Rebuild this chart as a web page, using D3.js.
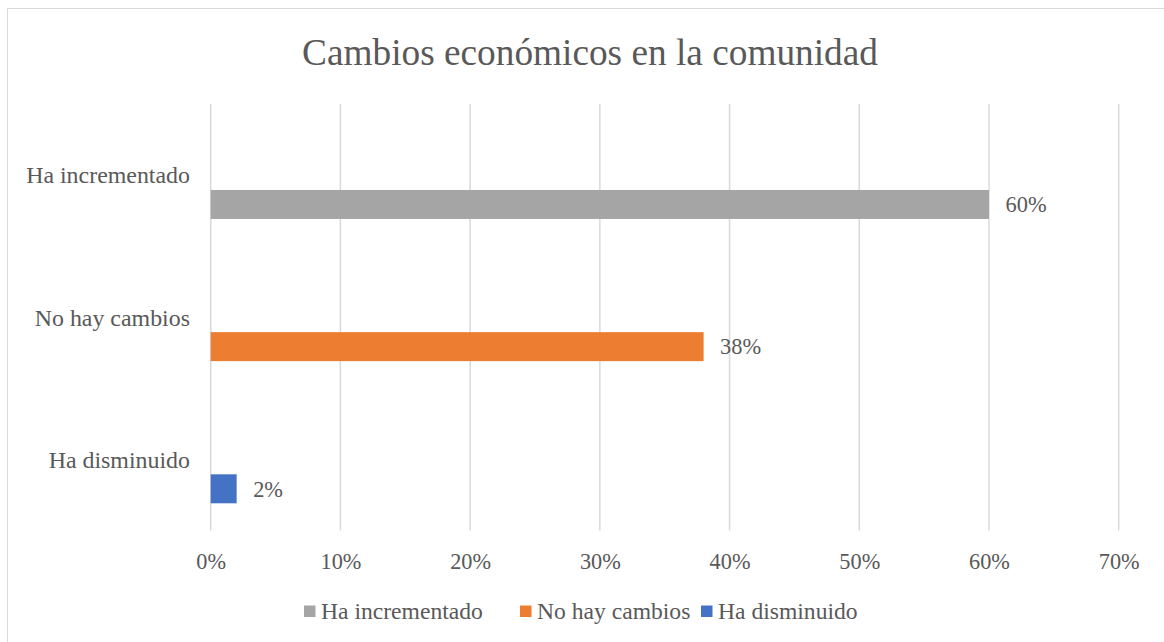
<!DOCTYPE html>
<html>
<head>
<meta charset="utf-8">
<script src="https://cdn.jsdelivr.net/npm/d3@7"></script>
<style>
  html, body { margin: 0; padding: 0; background: #fff; }
  svg { display: block; font-family: "Liberation Serif", "Times New Roman", serif; }
</style>
</head>
<body>
<svg id="chart" width="1164" height="642"></svg>
<script>
const title = "Cambios económicos en la comunidad";
const categories = ["Ha incrementado", "No hay cambios", "Ha disminuido"];
const seriesNames = ["Ha incrementado", "No hay cambios", "Ha disminuido"];
const seriesColors = ["#a5a5a5", "#ed7d31", "#4472c4"];
// values per series, aligned with categories (percent)
const serieHaIncrementado = [60, 0, 0];
const serieNoHayCambios = [0, 38, 0];
const serieHaDisminuido = [0, 0, 2];
const seriesValues = [serieHaIncrementado, serieNoHayCambios, serieHaDisminuido];
const xTicks = [0, 10, 20, 30, 40, 50, 60, 70];

const svg = d3.select("#chart");
const textColor = "#595959";
const FONT = "'Liberation Serif', 'Times New Roman', serif";

// outer border
svg.append("rect").attr("x", 7.5).attr("y", 8.5).attr("width", 1170).attr("height", 650)
  .attr("fill", "#fff").attr("stroke", "#d9d9d9").attr("stroke-width", 1);

const plot = { left: 210.7, right: 1118.7, top: 104, bottom: 530.5 };

const x = d3.scaleLinear().domain([0, 70]).range([plot.left, plot.right]);
const y = d3.scaleBand().domain(categories).range([plot.top, plot.bottom]).paddingInner(0).paddingOuter(0);
// each bar sits in the lower slot of its category band
const barOffset = y.bandwidth() * 86 / 142.2;
const barH = y.bandwidth() * 29 / 142.2;

// title
svg.append("text").attr("x", 590).attr("y", 52).attr("text-anchor", "middle")
  .attr("dominant-baseline", "central")
  .style("font-family", FONT)
  .attr("font-size", 37.3).attr("fill", textColor).text(title);

// gridlines
svg.append("g").selectAll("line").data(xTicks).join("line")
  .attr("x1", d => x(d)).attr("x2", d => x(d))
  .attr("y1", plot.top).attr("y2", plot.bottom)
  .attr("stroke", "#d9d9d9").attr("stroke-width", 1.5);

// x axis labels
const xAxis = d3.axisBottom(x).tickValues(xTicks).tickFormat(d => d + "%").tickSize(0).tickPadding(0);
const gx = svg.append("g").attr("transform", `translate(0,${plot.bottom})`).call(xAxis);
gx.select(".domain").remove();
gx.attr("font-family", null).attr("font-size", null);
gx.selectAll("text").style("font-family", FONT)
  .attr("font-size", 22.3).attr("fill", textColor).attr("y", 31).attr("dy", "0.35em");

// y axis labels (category centers)
const yAxis = d3.axisLeft(y).tickSize(0).tickPadding(0);
const gy = svg.append("g").attr("transform", `translate(${190},0)`).call(yAxis);
gy.select(".domain").remove();
gy.attr("font-family", null).attr("font-size", null);
gy.selectAll("text").style("font-family", FONT)
  .attr("font-size", 23.9).attr("fill", textColor).attr("x", 0).attr("dy", "0.35em");

// bars: one per category (the non-zero value of each series)
const barData = [];
seriesNames.forEach((s, si) => {
  categories.forEach((c, ci) => {
    const v = seriesValues[si][ci];
    if (v > 0) barData.push({ series: s, cat: c, value: v, color: seriesColors[si] });
  });
});
const bars = svg.append("g");
bars.selectAll("rect").data(barData).join("rect")
  .attr("x", x(0))
  .attr("y", d => y(d.cat) + barOffset)
  .attr("width", d => x(d.value) - x(0))
  .attr("height", barH)
  .attr("fill", d => d.color);

// data labels
bars.selectAll("text").data(barData).join("text")
  .attr("x", d => x(d.value) + 16.5)
  .attr("y", d => y(d.cat) + barOffset + barH / 2)
  .attr("dy", "0.35em")
  .style("font-family", FONT)
  .attr("font-size", 22.4).attr("fill", textColor)
  .text(d => d.value + "%");

// legend
const legendX = [304, 520, 701];
const lg = svg.append("g");
seriesNames.forEach((s, i) => {
  lg.append("rect").attr("x", legendX[i]).attr("y", 605.5).attr("width", 11.5).attr("height", 11.5)
    .attr("fill", seriesColors[i]);
  lg.append("text").attr("x", legendX[i] + 17).attr("y", 611).attr("dy", "0.35em")
    .style("font-family", FONT)
    .attr("font-size", 23.6).attr("fill", textColor).text(s);
});
</script>
</body>
</html>
